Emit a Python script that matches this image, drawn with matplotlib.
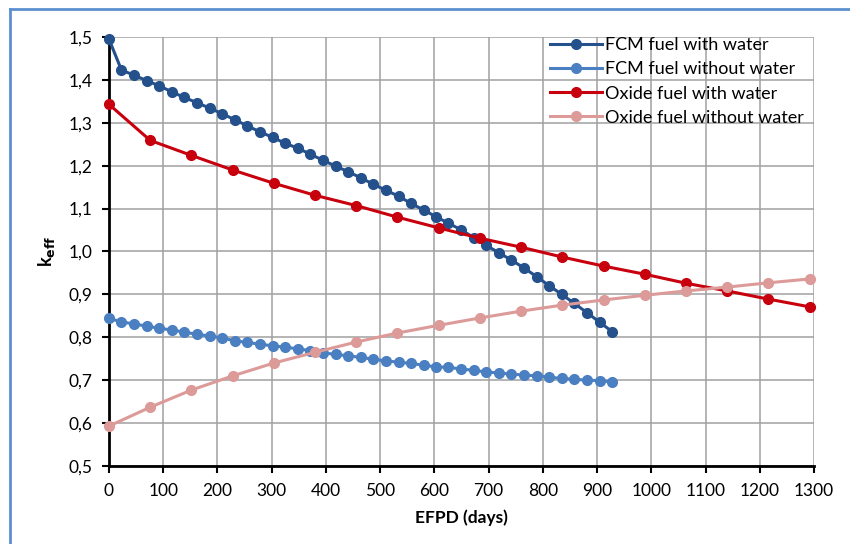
import matplotlib.pyplot as plt
from matplotlib.lines import Line2D
from matplotlib.ticker import FuncFormatter, MultipleLocator

plt.rcParams['font.family'] = ['Lato', 'DejaVu Sans']

# burnup steps (days)
fcm_days = [0, 23, 46, 70, 93, 116, 139, 162, 186, 209, 232, 255, 278, 302,
            325, 348, 371, 394, 418, 441, 464, 487, 510, 534, 557, 580, 603,
            626, 650, 673, 696, 719, 742, 766, 789, 812, 835, 858, 882, 905, 928]
oxide_days = [0, 76, 152, 228, 304, 380, 456, 532, 608, 684, 760, 836, 912,
              988, 1064, 1140, 1216, 1292]

fcm_water = [1.495, 1.423, 1.411, 1.398, 1.386, 1.372, 1.359, 1.347, 1.334,
             1.321, 1.307, 1.293, 1.279, 1.266, 1.252, 1.241, 1.227, 1.213,
             1.199, 1.186, 1.172, 1.157, 1.143, 1.129, 1.112, 1.097, 1.081,
             1.066, 1.050, 1.032, 1.014, 0.997, 0.980, 0.961, 0.941, 0.920,
             0.900, 0.879, 0.857, 0.835, 0.813]
fcm_dry = [0.844, 0.836, 0.831, 0.826, 0.821, 0.817, 0.812, 0.807, 0.803,
           0.798, 0.792, 0.788, 0.784, 0.780, 0.777, 0.773, 0.769, 0.764,
           0.760, 0.757, 0.753, 0.749, 0.745, 0.742, 0.739, 0.735, 0.731,
           0.730, 0.726, 0.723, 0.719, 0.717, 0.714, 0.712, 0.710, 0.707,
           0.704, 0.702, 0.700, 0.699, 0.696]
oxide_water = [1.343, 1.259, 1.224, 1.190, 1.159, 1.131, 1.107, 1.080, 1.055,
               1.031, 1.010, 0.987, 0.966, 0.947, 0.926, 0.908, 0.889, 0.871]
oxide_dry = [0.593, 0.637, 0.677, 0.710, 0.740, 0.765, 0.789, 0.810, 0.828,
             0.845, 0.861, 0.875, 0.887, 0.898, 0.908, 0.917, 0.927, 0.936]

series = [
    (fcm_days, fcm_water, '#24508c', 'FCM fuel with water'),
    (fcm_days, fcm_dry, '#4a7fc1', 'FCM fuel without water'),
    (oxide_days, oxide_water, '#c8000e', 'Oxide fuel with water'),
    (oxide_days, oxide_dry, '#dc9a98', 'Oxide fuel without water'),
]

fig = plt.figure(figsize=(8.5, 5.44), dpi=100)
ax = fig.add_axes([0.1282, 0.1434, 0.8294, 0.7886])

for x, y, c, lab in series:
    ax.plot(x, y, color=c, lw=2.2, marker='o', ms=7, label=lab, zorder=3,
            clip_on=False)

ax.set_xlim(0, 1300)
ax.set_ylim(0.5, 1.5)
ax.xaxis.set_major_locator(MultipleLocator(100))
ax.yaxis.set_major_locator(MultipleLocator(0.1))
ax.yaxis.set_major_formatter(FuncFormatter(lambda v, p: f"{v:.1f}".replace('.', ',')))
ax.grid(True, color='#a0a0a0', lw=1.1)
ax.set_axisbelow(True)
for s in ['top', 'right']:
    ax.spines[s].set_visible(False)
for s in ['left', 'bottom']:
    ax.spines[s].set_linewidth(2)
    ax.spines[s].set_color('black')
ax.tick_params(direction='out', length=5, width=1.5, labelsize=12.5, pad=7)

ax.set_xlabel('EFPD (days)', fontsize=12.5, fontweight='bold', labelpad=8)
ax.set_ylabel(r'k$_\mathbf{eff}$', fontsize=13, fontweight='bold', labelpad=8)

ax.legend(loc='upper right', bbox_to_anchor=(0.996, 1.016), frameon=False,
          fontsize=13, handlelength=2.9, handletextpad=0.15, labelspacing=0.45,
          borderaxespad=0)

# frame around the figure
fig.add_artist(Line2D([10 / 850, 10 / 850], [0, 1 - 9 / 544], transform=fig.transFigure,
                      color='#5b8fd0', lw=2))
fig.add_artist(Line2D([10 / 850, 1], [1 - 9 / 544, 1 - 9 / 544], transform=fig.transFigure,
                      color='#5b8fd0', lw=2))

fig.savefig('out.png', dpi=100)
